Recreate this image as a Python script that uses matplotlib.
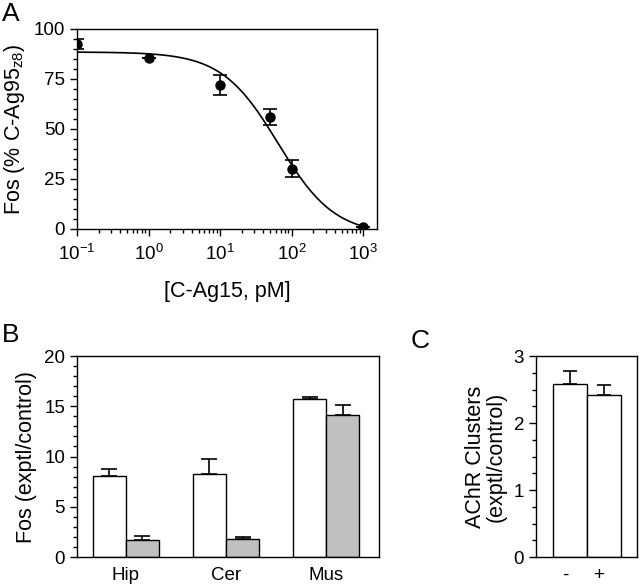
import numpy as np
import matplotlib
matplotlib.use("Agg")
import matplotlib.pyplot as plt
from matplotlib.ticker import MultipleLocator, LogLocator, NullFormatter

plt.rcParams['font.family'] = ['Liberation Sans', 'DejaVu Sans']
plt.rcParams['mathtext.default'] = 'regular'

# --- Panel A: dose response ---
conc_pm = [0.1, 1, 10, 50, 100, 1000]
fos_pct = [92.5, 85.5, 72.2, 56.0, 30.2, 0.8]
fos_pct_err = [2.7, 0.0, 5.0, 4.2, 4.2, 0.0]
# fitted sigmoid (top, bottom, IC50, hill)
fit_top, fit_bottom, fit_ic50, fit_hill = 88.5, -3.0, 65.0, 1.1

# --- Panel B: Fos by tissue ---
tissues = ['Hip', 'Cer', 'Mus']
fos_open = [8.08, 8.21, 15.73]
fos_open_err = [0.66, 1.59, 0.2]
fos_gray = [1.72, 1.79, 14.1]
fos_gray_err = [0.33, 0.2, 1.0]

# --- Panel C: AChR clusters ---
achr_labels = ['-', '+']
achr_vals = [2.58, 2.42]
achr_err = [0.2, 0.14]

TICK_FS = 13.5
LABEL_FS = 15.5
LW = 1.0

fig = plt.figure(figsize=(6.4, 5.87), dpi=100)


def style_axes(ax):
    for s in ax.spines.values():
        s.set_linewidth(LW)
    ax.tick_params(axis='both', which='major', direction='out', length=5, width=LW,
                   labelsize=TICK_FS)
    ax.tick_params(axis='both', which='minor', direction='out', length=3, width=LW)
    ax.tick_params(top=False, right=False, which='both')


# Panel A
axA = fig.add_axes([0.1203, 0.6099, 0.469, 0.3407])
xs = np.logspace(-1, 3, 300)
ys = fit_bottom + (fit_top - fit_bottom) / (1 + (xs / fit_ic50) ** fit_hill)
axA.plot(xs, ys, color='black', lw=1.2)
axA.errorbar(conc_pm, fos_pct, yerr=fos_pct_err, fmt='o', color='black', ms=6.5,
             capsize=5, elinewidth=1.2, capthick=1.2)
axA.set_xscale('log')
axA.set_xlim(0.1, 1570)
axA.set_ylim(0, 100)
axA.yaxis.set_major_locator(MultipleLocator(25))
axA.yaxis.set_minor_locator(MultipleLocator(5))
axA.xaxis.set_major_locator(LogLocator(base=10, numticks=10))
axA.xaxis.set_minor_locator(LogLocator(base=10, subs=np.arange(2, 10), numticks=10))
axA.xaxis.set_minor_formatter(NullFormatter())
style_axes(axA)
axA.tick_params(axis='x', pad=6)
axA.set_ylabel('Fos (% C-Ag95$_{z8}$)', fontsize=LABEL_FS, labelpad=5)
axA.set_xlabel('[C-Ag15, pM]', fontsize=LABEL_FS, labelpad=12)

# Panel B
axB = fig.add_axes([0.1203, 0.0511, 0.4719, 0.3424])
pos = np.arange(len(tissues))
bw = 0.33
axB.bar(pos - bw / 2, fos_open, width=bw, color='white', edgecolor='black', lw=LW, zorder=2)
axB.bar(pos + bw / 2, fos_gray, width=bw, color='#c0c0c0', edgecolor='black', lw=LW, zorder=2)
axB.errorbar(pos - bw / 2, fos_open, yerr=[np.zeros(3), fos_open_err], fmt='none',
             ecolor='black', capsize=6, elinewidth=1.2, capthick=1.2, zorder=1)
axB.errorbar(pos + bw / 2, fos_gray, yerr=[np.zeros(3), fos_gray_err], fmt='none',
             ecolor='black', capsize=6, elinewidth=1.2, capthick=1.2, zorder=1)
axB.set_xlim(-0.49, 2.53)
axB.set_ylim(0, 20)
axB.yaxis.set_major_locator(MultipleLocator(5))
axB.yaxis.set_minor_locator(MultipleLocator(1))
axB.set_xticks(pos)
axB.set_xticklabels(tissues)
style_axes(axB)
axB.tick_params(axis='x', length=0, pad=7)
axB.set_ylabel('Fos (exptl/control)', fontsize=LABEL_FS, labelpad=5)

# Panel C
axC = fig.add_axes([0.8375, 0.0511, 0.1578, 0.3424])
posC = np.arange(len(achr_labels))
axC.bar(posC, achr_vals, width=1.0, color='white', edgecolor='black', lw=LW, zorder=2)
axC.errorbar(posC, achr_vals, yerr=[np.zeros(2), achr_err], fmt='none', ecolor='black',
             capsize=5, elinewidth=1.2, capthick=1.2, zorder=1)
axC.set_xlim(-1.0, 1.97)
axC.set_ylim(0, 3)
axC.yaxis.set_major_locator(MultipleLocator(1))
axC.yaxis.set_minor_locator(MultipleLocator(0.25))
axC.set_xticks(posC - 0.15)
axC.set_xticklabels(achr_labels)
style_axes(axC)
axC.tick_params(axis='x', length=0, pad=7)
axC.set_ylabel('AChR Clusters\n(exptl/control)', fontsize=LABEL_FS, labelpad=5,
               linespacing=1.0)

# panel letters
fig.text(2 / 640, 1 - 21 / 587, 'A', fontsize=19, ha='left', va='baseline')
fig.text(2 / 640, 1 - 342 / 587, 'B', fontsize=19, ha='left', va='baseline')
fig.text(411 / 640, 1 - 348 / 587, 'C', fontsize=19, ha='left', va='baseline')

fig.savefig('out.png', dpi=100)
